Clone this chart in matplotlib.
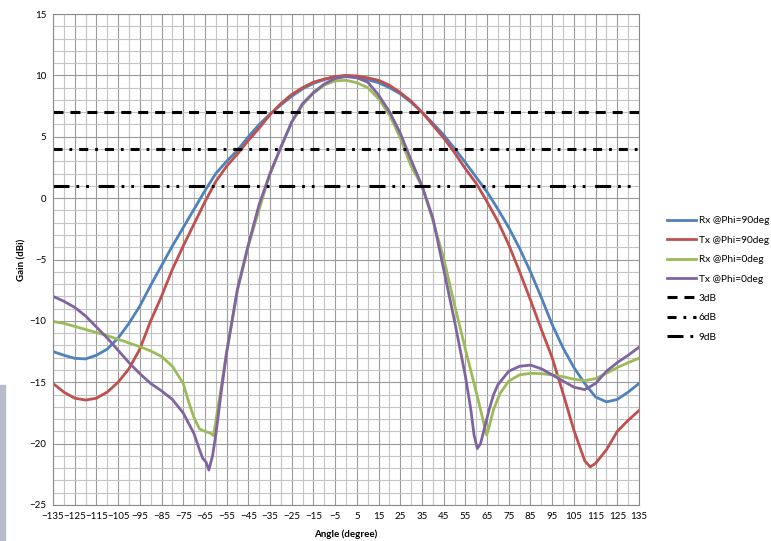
import matplotlib.pyplot as plt
from matplotlib.patches import Rectangle

plt.rcParams['font.family'] = ['Lato', 'DejaVu Sans']
plt.rcParams['lines.scale_dashes'] = False

# Rx @Phi=90deg
rx90_ang = [-135, -130, -125, -120, -115, -110, -105, -100, -95, -90, -85, -80, -75, -70, -65, -60,
            -55, -50, -45, -40, -35, -30, -25, -20, -15, -10, -5, 0, 5, 10, 15, 20, 25, 30, 35, 40,
            45, 50, 55, 60, 65, 70, 75, 80, 85, 90, 95, 100, 105, 110, 115, 120, 125, 130, 135]
rx90_gain = [-12.5, -12.8, -13.05, -13.1, -12.8, -12.3, -11.4, -10.2, -8.8, -7.1, -5.5, -3.9, -2.4,
             -0.9, 0.6, 2.0, 3.0, 3.9, 5.0, 6.0, 6.85, 7.6, 8.3, 8.9, 9.35, 9.65, 9.9, 9.95, 9.85,
             9.65, 9.4, 9.0, 8.5, 7.8, 7.0, 6.1, 5.15, 4.05, 2.9, 1.7, 0.5, -0.9, -2.4, -4.1, -6.0,
             -8.1, -10.3, -12.2, -13.8, -15.1, -16.2, -16.6, -16.4, -15.8, -15.1]

# Tx @Phi=90deg
tx90_ang = [-135, -130, -125, -120, -115, -110, -105, -100, -95, -90, -85, -80, -75, -70, -65, -60,
            -55, -50, -45, -40, -35, -30, -25, -20, -15, -10, -5, 0, 5, 10, 15, 20, 25, 30, 35, 40,
            45, 50, 55, 60, 65, 70, 75, 80, 85, 90, 95, 100, 105, 110, 112.5, 115, 120, 125, 130, 135]
tx90_gain = [-15.1, -15.8, -16.3, -16.45, -16.3, -15.8, -15.0, -13.9, -12.3, -10.0, -8.0, -5.8,
             -3.9, -2.1, -0.3, 1.35, 2.6, 3.6, 4.7, 5.7, 6.8, 7.7, 8.45, 9.0, 9.45, 9.7, 9.9, 10.0,
             9.95, 9.8, 9.6, 9.2, 8.6, 7.9, 7.0, 5.95, 4.9, 3.7, 2.4, 1.2, -0.3, -1.9, -3.8, -6.0,
             -8.3, -10.7, -13.0, -15.9, -18.9, -21.4, -21.9, -21.6, -20.5, -19.0, -18.1, -17.3]

# Rx @Phi=0deg
rx0_ang = [-135, -130, -125, -120, -115, -110, -105, -100, -95, -90, -85, -80, -75, -72.5, -70,
           -67.5, -65, -62.5, -61, -60, -57.5, -55, -50, -45, -40, -35, -30, -25, -20, -15, -10,
           -5, 0, 5, 10, 15, 20, 25, 30, 35, 40, 45, 50, 55, 60, 62.5, 64.8, 66, 68, 71, 75, 80,
           85, 90, 95, 100, 105, 110, 115, 120, 125, 130, 135]
rx0_gain = [-10.05, -10.2, -10.45, -10.7, -10.95, -11.2, -11.5, -11.8, -12.1, -12.45, -12.9, -13.7,
            -15.1, -16.6, -17.9, -18.8, -19.0, -19.15, -19.35, -18.2, -15.4, -12.5, -7.5, -3.9,
            -0.9, 2.0, 4.15, 6.2, 7.6, 8.55, 9.2, 9.55, 9.6, 9.4, 9.0, 8.1, 6.8, 4.9, 2.6, 1.0,
            -1.8, -4.9, -8.7, -12.3, -15.8, -17.6, -19.3, -18.6, -17.2, -15.9, -14.9, -14.4,
            -14.27, -14.3, -14.4, -14.55, -14.75, -14.87, -14.7, -14.27, -13.8, -13.4, -13.05]

# Tx @Phi=0deg
tx0_ang = [-135, -130, -125, -120, -115, -110, -105, -100, -95, -90, -85, -80, -75, -70, -67.5,
           -66, -64.5, -63.2, -61.5, -60, -57.5, -55, -50, -45, -40, -35, -30, -25, -20, -15, -10,
           -5, 0, 5, 10, 15, 20, 25, 30, 35, 40, 45, 50, 55, 57.5, 59, 60.5, 62, 64, 66, 68, 70,
           75, 80, 85, 90, 95, 100, 105, 110, 115, 120, 125, 130, 135]
tx0_gain = [-8.0, -8.4, -8.9, -9.6, -10.5, -11.4, -12.4, -13.4, -14.3, -15.1, -15.7, -16.4, -17.5,
            -19.2, -20.5, -21.2, -21.5, -22.15, -21.0, -19.3, -15.8, -12.6, -7.4, -3.8, -0.5,
            2.0, 4.15, 6.2, 7.7, 8.6, 9.3, 9.75, 9.9, 9.8, 9.45, 8.4, 7.05, 5.3, 3.1, 1.0, -1.6,
            -5.8, -10.0, -14.5, -17.2, -19.3, -20.4, -20.0, -18.6, -17.2, -16.0, -15.2, -14.1,
            -13.7, -13.6, -13.9, -14.4, -14.9, -15.4, -15.6, -15.1, -14.1, -13.4, -12.8, -12.15]

ref_ang = [-135, 135]
ref_3db = [7, 7]
ref_6db = [4, 4]
ref_9db = [1, 1]

x_ticks = list(range(-135, 136, 10))
y_ticks = list(range(-25, 16, 5))

fig = plt.figure(figsize=(7.71, 5.41), dpi=100)
ax = fig.add_axes([53 / 771, 1 - 505 / 541, 586 / 771, 491 / 541])

ax.plot(rx90_ang, rx90_gain, color='#4F81BD', lw=2, label='Rx @Phi=90deg')
ax.plot(tx90_ang, tx90_gain, color='#C0504D', lw=2, label='Tx @Phi=90deg')
ax.plot(rx0_ang, rx0_gain, color='#9BBB59', lw=2, label='Rx @Phi=0deg')
ax.plot(tx0_ang, tx0_gain, color='#8064A2', lw=2, label='Tx @Phi=0deg')
ax.plot(ref_ang, ref_3db, color='black', lw=2.2, dashes=(7.2, 5), label='3dB')
ax.plot(ref_ang, ref_6db, color='black', lw=2.2, dashes=(6.5, 5, 2, 5), label='6dB')
ax.plot(ref_ang, ref_9db, color='black', lw=2.2, dashes=(11.5, 5, 2, 5, 2, 7), label='9dB')

ax.set_xlim(-135, 135)
ax.set_ylim(-25, 15)
ax.set_xticks(x_ticks)
ax.set_yticks(y_ticks)
ax.set_xticks(range(-130, 136, 10), minor=True)
ax.set_yticks(range(-25, 16, 1), minor=True)
ax.grid(True, which='major', color='#9a9a9a', lw=0.8)
ax.grid(True, which='minor', color='#c4c4c4', lw=0.8)
ax.set_axisbelow(True)
ax.tick_params(which='both', length=0, labelsize=7, pad=5)
for s in ax.spines.values():
    s.set_color('#8a8a8a')

ax.set_xlabel('Angle (degree)', fontsize=7, fontweight='bold', labelpad=6)
ax.set_ylabel('Gain (dBi)', fontsize=7, fontweight='bold', labelpad=2)

fig.legend(loc='upper left', bbox_to_anchor=(658 / 771, 1 - 207 / 541), frameon=False,
           fontsize=7.3, handlelength=2.8, labelspacing=1.02, handletextpad=0.3)

fig.patches.append(Rectangle((0, 0), 5 / 771, 156 / 541, transform=fig.transFigure,
                             color='#b7bccb', zorder=0))

fig.savefig('out.png', dpi=100)
